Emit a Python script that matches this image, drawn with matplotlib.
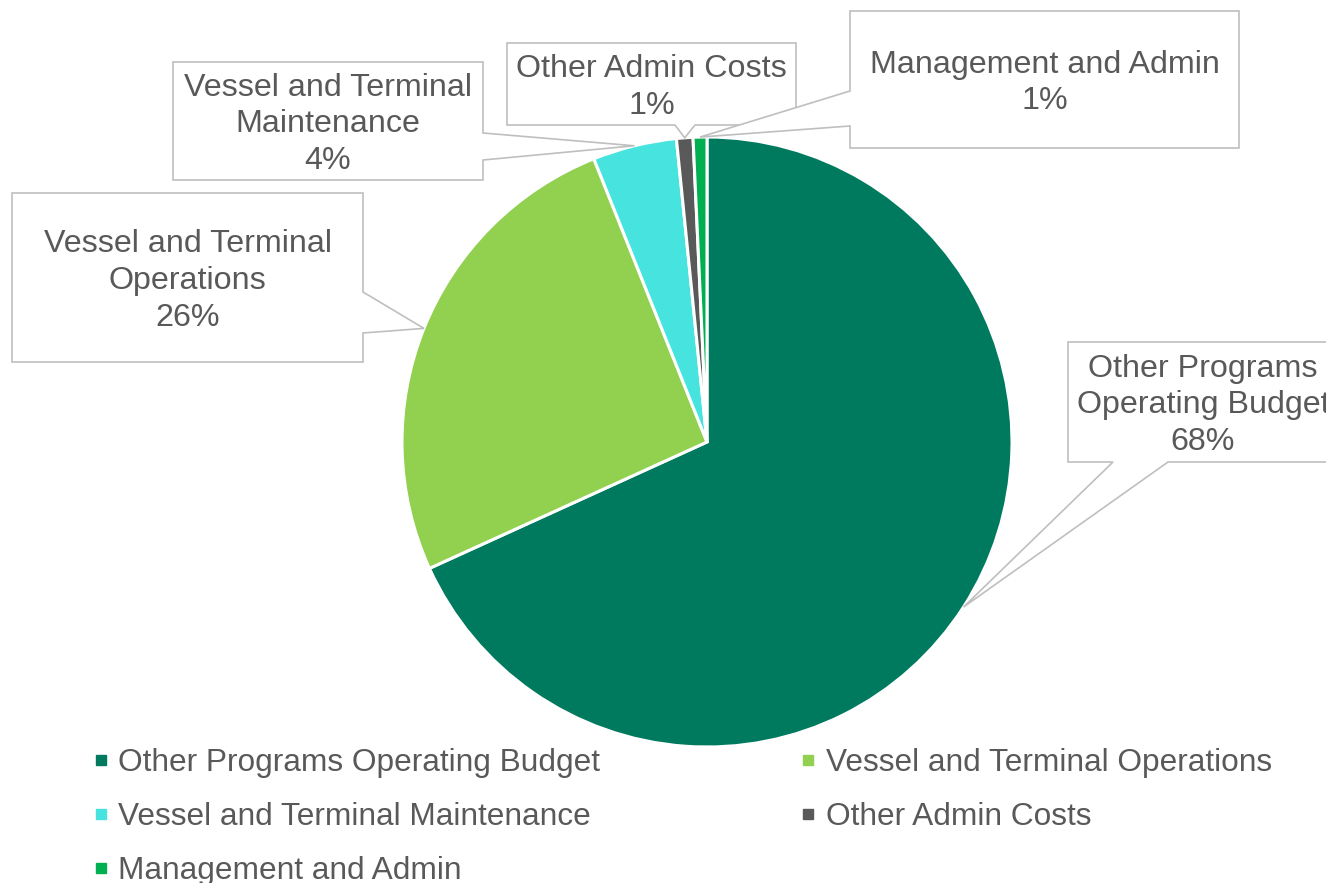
import numpy as np
import matplotlib
matplotlib.use("Agg")
import matplotlib.pyplot as plt
from matplotlib.patches import Polygon
from matplotlib.lines import Line2D

# ---- data ----
categories = ["Other Programs Operating Budget", "Vessel and Terminal Operations",
              "Vessel and Terminal Maintenance", "Other Admin Costs", "Management and Admin"]
label_names = ["Other Programs\nOperating Budget", "Vessel and Terminal\nOperations",
               "Vessel and Terminal\nMaintenance", "Other Admin Costs", "Management and Admin"]
shares = [68.2, 25.75, 4.45, 0.87, 0.73]
colors = ["#007A5E", "#92D050", "#47E4DF", "#595959", "#00B050"]

W, H = 1326, 883
TXT = "#595959"
EDGE = "#BFBFBF"
FONT = "Liberation Sans"
FS = 23.2
LFS = 22.8

fig = plt.figure(figsize=(W / 100, H / 100), dpi=100)
ax = fig.add_axes([0, 0, 1, 1])

cx, cy, R = 707, H - 442, 305
wedges, _ = ax.pie(shares, colors=colors, startangle=90, counterclock=False,
                   center=(cx, cy), radius=R,
                   wedgeprops=dict(edgecolor="white", linewidth=2.2))
ax.set_xlim(0, W)
ax.set_ylim(0, H)
ax.set_aspect("equal")
ax.axis("off")

# pointer positions at wedge mid-angles
total = sum(shares)
cum = np.cumsum([0] + shares[:-1])
mid = np.deg2rad(90 - 360 * (cum + np.array(shares) / 2) / total)
pointers = [(cx + R * np.cos(a), cy + R * np.sin(a)) for a in mid]

def Y(py):
    return H - py

# callout boxes: (x0, top, x1, bottom), side of wedge, base coords (pixel, top-down)
boxes = [
    dict(box=(1068, 342, 1338, 462), side="bottom", base=(1113, 1168)),
    dict(box=(12, 193, 363, 362), side="right", base=(292, 333)),
    dict(box=(173, 62, 483, 180), side="right", base=(133, 160)),
    dict(box=(507, 43, 796, 125), side="bottom", base=(675, 695)),
    dict(box=(850, 11, 1239, 148), side="left", base=(91, 126)),
]

for i, b in enumerate(boxes):
    x0, t, x1, bt = b["box"]
    P = pointers[i]
    s = b["side"]
    b1, b2 = b["base"]
    if s == "right":
        pts = [(x0, Y(t)), (x1, Y(t)), (x1, Y(b1)), P, (x1, Y(b2)), (x1, Y(bt)), (x0, Y(bt))]
    elif s == "bottom":
        pts = [(x0, Y(t)), (x1, Y(t)), (x1, Y(bt)), (b2, Y(bt)), P, (b1, Y(bt)), (x0, Y(bt))]
    else:  # left
        pts = [(x0, Y(t)), (x1, Y(t)), (x1, Y(bt)), (x0, Y(bt)), (x0, Y(b2)), P, (x0, Y(b1))]
    poly = Polygon(pts, closed=True, facecolor="white", edgecolor=EDGE,
                   linewidth=1.2, zorder=5 + 2 * i, clip_on=False)
    ax.add_patch(poly)
    pct = f"{round(shares[i]):.0f}%" if shares[i] >= 1 else "1%"
    ax.text((x0 + x1) / 2, Y((t + bt) / 2 + 3.5), f"{label_names[i]}\n{pct}",
            ha="center", va="center", fontsize=FS, color=TXT, family=FONT,
            linespacing=1.3, zorder=6 + 2 * i)

# legend (row-major order like the reference)
handles = [Line2D([0], [0], marker="s", linestyle="none", markersize=7.5,
                  markerfacecolor=c, markeredgecolor=c) for c in colors]
order = [0, 2, 4, 1, 3]
leg = ax.legend([handles[k] for k in order], [categories[k] for k in order],
                ncol=2, loc="upper left", bbox_to_anchor=(80 / W, 1 - 735.5 / H),
                frameon=False, prop=dict(family=FONT, size=LFS),
                handlelength=0.5, handletextpad=0.3, labelspacing=0.76,
                columnspacing=6.33, borderaxespad=0)
for t in leg.get_texts():
    t.set_color(TXT)

fig.savefig("out.png", dpi=100)
